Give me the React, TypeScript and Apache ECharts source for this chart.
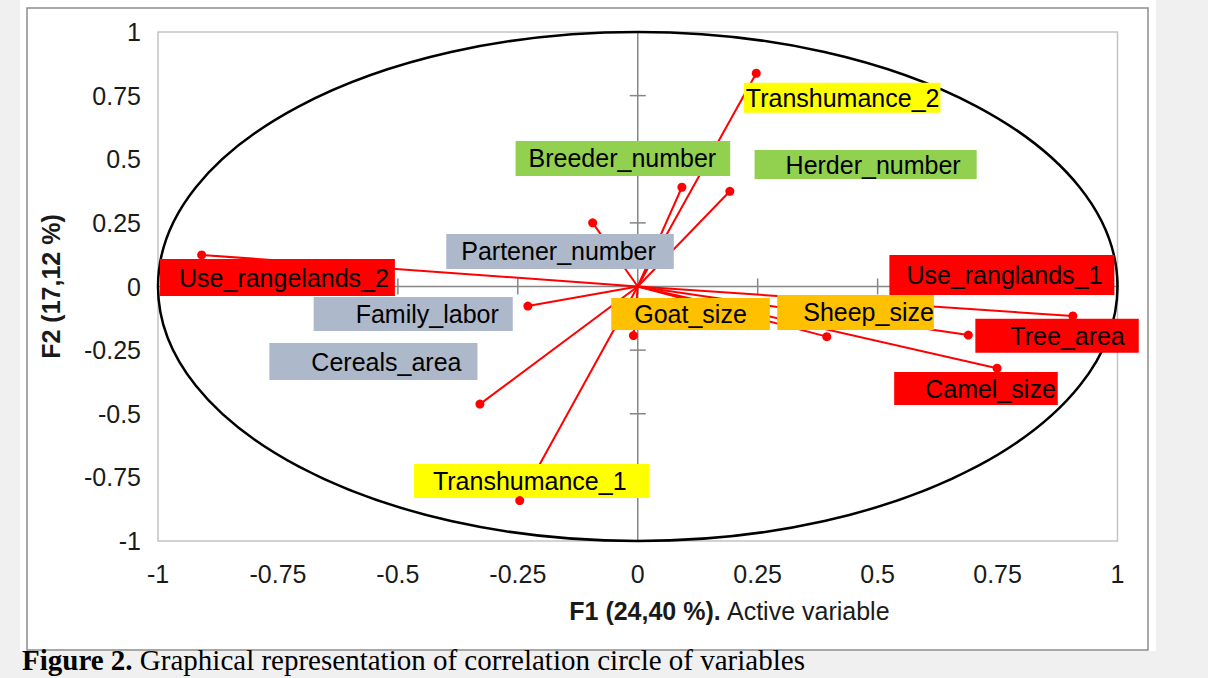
import React, { useEffect, useRef } from "react";
import * as echarts from "echarts";

// ---- data -------------------------------------------------------------
const VARIABLES = [
  "Transhumance_2",
  "Breeder_number",
  "Herder_number",
  "Partener_number",
  "Use_rangelands_2",
  "Family_labor",
  "Cereals_area",
  "Transhumance_1",
  "Goat_size",
  "Sheep_size",
  "Use_ranglands_1",
  "Tree_area",
  "Camel_size",
];
// correlations with the factors (arrow tips)
const F1 = [0.247, 0.092, 0.192, -0.094, -0.909, -0.229, -0.329, -0.246, -0.009, 0.394, 0.907, 0.689, 0.749];
const F2 = [0.838, 0.39, 0.374, 0.25, 0.124, -0.077, -0.462, -0.841, -0.193, -0.197, -0.116, -0.191, -0.321];
// where the author placed each label (centre of the coloured box, factor units)
const LABEL_F1 = [0.426, -0.031, 0.475, -0.162, -0.751, -0.468, -0.551, -0.221, 0.11, 0.454, 0.759, 0.874, 0.705];
const LABEL_F2 = [0.742, 0.503, 0.479, 0.138, 0.035, -0.108, -0.295, -0.764, -0.108, -0.102, 0.045, -0.194, -0.401];
const GROUPS = [
  "mobility",
  "workforce",
  "workforce",
  "household",
  "land",
  "household",
  "household",
  "mobility",
  "smallRuminants",
  "smallRuminants",
  "land",
  "land",
  "land",
];
const TICKS = [-1, -0.75, -0.5, -0.25, 0, 0.25, 0.5, 0.75, 1];
const CIRCLE = [[0, 0, 1]]; // centre F1, centre F2, radius

const AXIS_MIN = -1;
const AXIS_MAX = 1;
const X_TITLE_BOLD = "F1 (24,40 %).";
const X_TITLE_REST = " Active variable";
const Y_TITLE = "F2 (17,12 %)";
const CAPTION_BOLD = "Figure 2.";
const CAPTION_REST = " Graphical representation of correlation circle of variables";

// ---- styles -----------------------------------------------------------
const GROUP_COLORS: Record<string, string> = {
  mobility: "#ffff00",
  workforce: "#92d050",
  household: "#adb9ca",
  land: "#ff0000",
  smallRuminants: "#ffc000",
};
// label box padding [top, right, bottom, left]
const LABEL_PAD: Record<string, number[]> = {
  Transhumance_2: [6, 1, 6, 2],
  Breeder_number: [17, 14, 0, 13],
  Herder_number: [10, 16, 1, 31],
  Partener_number: [12, 18, 5, 15],
  Use_rangelands_2: [12, 6, 7, 19],
  Family_labor: [10, 14, 6, 42],
  Cereals_area: [10, 16, 9, 42],
  Transhumance_1: [10, 23, 6, 19],
  Goat_size: [9, 23, 5, 23],
  Sheep_size: [12, 0, 5, 26],
  Use_ranglands_1: [17, 12, 5, 17],
  Tree_area: [11, 14, 5, 35],
  Camel_size: [10, 2, 5, 31],
};
const SANS = '"Liberation Sans", Arial, sans-serif';
const SERIF = '"Liberation Serif", "Times New Roman", serif';
const RED = "#ff0000";
const AXIS_GRAY = "#868686";

export default function App() {
  const ref = useRef<HTMLDivElement>(null);

  useEffect(() => {
    if (!ref.current) return;
    const chart = echarts.init(ref.current, undefined, { renderer: "svg" });

    const arrows = VARIABLES.map((name, i) => ({
      name,
      coords: [
        [0, 0],
        [F1[i], F2[i]],
      ],
    }));
    const tips = VARIABLES.map((name, i) => ({ name, value: [F1[i], F2[i]] }));
    const labels = VARIABLES.map((name, i) => ({
      name,
      value: [LABEL_F1[i], LABEL_F2[i]],
      label: {
        backgroundColor: GROUP_COLORS[GROUPS[i]],
        padding: LABEL_PAD[name],
      },
    }));

    const option: any = {
      animation: false,
      backgroundColor: "#f0f0f0",
      graphic: [
        {
          type: "rect",
          z: -10,
          shape: { x: 20, y: 0, width: 1136, height: 651 },
          style: { fill: "#ffffff" },
        },
        {
          type: "rect",
          z: -9,
          shape: { x: 27, y: 8, width: 1121, height: 642 },
          style: { fill: "none", stroke: "#8c8c8c", lineWidth: 1.5 },
        },
        {
          type: "text",
          x: 22,
          y: 645,
          style: {
            text: "{b|" + CAPTION_BOLD + "}" + CAPTION_REST,
            fontFamily: SERIF,
            fontSize: 29,
            fill: "#000",
            rich: { b: { fontFamily: SERIF, fontSize: 29, fontWeight: "bold" } },
          },
        },
      ],
      grid: {
        left: 158,
        right: 90.5,
        top: 32,
        bottom: 137,
        show: true,
        backgroundColor: "#ffffff",
        borderColor: "#c4c4c4",
        borderWidth: 1.5,
        outerBoundsMode: "none",
      },
      xAxis: {
        type: "value",
        min: AXIS_MIN,
        max: AXIS_MAX,
        interval: 0.25,
        axisLine: { show: false, onZero: false },
        axisTick: { show: false },
        splitLine: { show: false },
        axisLabel: { fontFamily: SANS, fontSize: 25, color: "#1a1a1a", margin: 20 },
        name: "{b|" + X_TITLE_BOLD + "}" + X_TITLE_REST,
        nameLocation: "middle",
        nameGap: 57,
        nameTextStyle: {
          fontFamily: SANS,
          fontSize: 25,
          color: "#1a1a1a",
          padding: [0, 0, 0, 184],
          rich: { b: { fontFamily: SANS, fontSize: 25, fontWeight: "bold", color: "#1a1a1a" } },
        },
      },
      yAxis: {
        type: "value",
        min: AXIS_MIN,
        max: AXIS_MAX,
        interval: 0.25,
        axisLine: { show: false, onZero: false },
        axisTick: { show: false },
        splitLine: { show: false },
        axisLabel: { fontFamily: SANS, fontSize: 25, color: "#1a1a1a", margin: 17 },
        name: Y_TITLE,
        nameLocation: "middle",
        nameRotate: 90,
        nameGap: 95,
        nameTextStyle: { fontFamily: SANS, fontSize: 25, fontWeight: "bold", color: "#1a1a1a" },
      },
      series: [
        {
          type: "custom",
          name: "zeroAxes",
          z: 1,
          silent: true,
          data: [[0, 0]],
          renderItem: (_p: any, api: any) => {
            const l = api.coord([AXIS_MIN, 0]);
            const r = api.coord([AXIS_MAX, 0]);
            const b = api.coord([0, AXIS_MIN]);
            const t = api.coord([0, AXIS_MAX]);
            return {
              type: "group",
              children: [
                { type: "line", shape: { x1: l[0], y1: l[1], x2: r[0], y2: r[1] }, style: { stroke: AXIS_GRAY, lineWidth: 1.5 } },
                { type: "line", shape: { x1: b[0], y1: b[1], x2: t[0], y2: t[1] }, style: { stroke: AXIS_GRAY, lineWidth: 1.5 } },
              ],
            };
          },
        },
        {
          type: "custom",
          name: "ticks",
          z: 1,
          silent: true,
          data: TICKS.map((v) => [v, v]),
          renderItem: (_p: any, api: any) => {
            const v = api.value(0);
            const onY = api.coord([0, v]);
            const onX = api.coord([v, 0]);
            return {
              type: "group",
              children: [
                { type: "line", shape: { x1: onY[0] - 8, y1: onY[1], x2: onY[0] + 8, y2: onY[1] }, style: { stroke: AXIS_GRAY, lineWidth: 1.5 } },
                { type: "line", shape: { x1: onX[0], y1: onX[1] - 8, x2: onX[0], y2: onX[1] + 8 }, style: { stroke: AXIS_GRAY, lineWidth: 1.5 } },
              ],
            };
          },
        },
        {
          type: "custom",
          name: "circle",
          z: 2,
          silent: true,
          data: CIRCLE,
          renderItem: (_p: any, api: any) => {
            const c = api.coord([api.value(0), api.value(1)]);
            const s = api.size([api.value(2), api.value(2)]);
            return {
              type: "ellipse",
              shape: { cx: c[0], cy: c[1], rx: s[0], ry: s[1] },
              style: { fill: "none", stroke: "#000000", lineWidth: 2.5 },
            };
          },
        },
        {
          type: "lines",
          name: "arrows",
          coordinateSystem: "cartesian2d",
          z: 3,
          silent: true,
          data: arrows,
          lineStyle: { color: RED, width: 2, opacity: 1 },
        },
        {
          type: "scatter",
          name: "labels",
          z: 4,
          silent: true,
          symbolSize: 1,
          itemStyle: { color: "rgba(0,0,0,0)", opacity: 1 },
          data: labels,
          label: {
            show: true,
            position: "inside",
            formatter: "{b}",
            fontFamily: SANS,
            fontSize: 25,
            lineHeight: 18,
            color: "#000000",
            opacity: 1,
          },
        },
        {
          type: "scatter",
          name: "tips",
          z: 5,
          silent: true,
          symbolSize: 9,
          itemStyle: { color: RED, opacity: 1 },
          data: tips,
        },
      ],
    };

    chart.setOption(option);
    return () => chart.dispose();
  }, []);

  return (
    <div
      ref={ref}
      style={{ position: "absolute", left: 0, top: 0, width: 1208, height: 678 }}
    />
  );
}
